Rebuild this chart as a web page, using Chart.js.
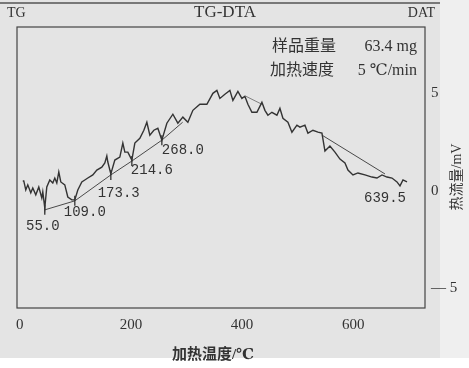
<!DOCTYPE html>
<html>
<head>
<meta charset="utf-8">
<script src="https://cdn.jsdelivr.net/npm/chart.js@4/dist/chart.umd.min.js"></script>
<style>
html, body { margin: 0; padding: 0; background: #fff; }
</style>
</head>
<body>
<canvas id="dta" width="469" height="368"></canvas>
<script>
// DTA trace (temperature in °C, heat flow in mV)
var tempC = [5.4, 7.2, 10.8, 14.4, 19.8, 23.4, 28.8, 34.2, 39.6, 41.4, 45, 48.6, 54, 59.4, 63, 66.6, 70.2, 73.8, 81, 86.4,
    93.6, 99, 104.4, 111.6, 117, 122.4, 131.4, 138.6, 147.6, 153, 156.6, 158.4, 163.8, 171, 180, 185.4, 189, 194.4, 201.6, 207,
    216, 223.2, 228.6, 234, 241.2, 248.4, 255.6, 264.6, 275.4, 284.4, 293.4, 302.4, 311.4, 324, 336.6, 347.4, 354.6, 360, 369, 378,
    383.4, 392.4, 399.6, 405, 410.4, 417.6, 426.6, 435.6, 441, 446.4, 453.6, 462.6, 468, 473.4, 482.4, 489.6, 498.6, 504, 513, 518.4,
    527.4, 536.4, 543.6, 549, 558, 567, 576, 585, 590.4, 599.4, 608.4, 621, 633.6, 642.6, 651.6, 660.6, 669.6, 678.6, 684, 689.4, 696.6];
var dtaMv = [0.51, 0.51, 0.05, 0.31, -0.10, 0.15, -0.20, 0.20, -0.36, -0.05, -0.87, 0.20, 0.56, 0.41, 0.66, 0.41, 0.97, 0.46, 0.31, -0.31,
    -0.46, -0.46, 0.05, 0.46, 0.56, 0.66, 0.82, 1.07, 1.22, 1.43, 1.79, 1.48, 0.87, 1.58, 1.73, 2.45, 1.99, 1.99, 1.58, 2.45,
    2.70, 3.11, 3.52, 2.86, 3.11, 3.21, 2.60, 3.47, 3.93, 3.47, 3.78, 3.52, 4.13, 4.44, 4.44, 5.00, 5.15, 4.74, 4.95, 5.15,
    4.64, 5.10, 4.74, 4.85, 4.44, 4.03, 4.03, 4.54, 4.13, 3.88, 4.03, 3.88, 4.23, 3.72, 3.52, 3.01, 3.37, 3.27, 3.37, 2.96,
    3.11, 3.01, 2.96, 2.04, 2.30, 1.99, 1.63, 1.43, 1.07, 0.82, 0.92, 0.82, 0.71, 0.66, 0.82, 0.71, 0.66, 0.46, 0.26, 0.56, 0.46];

// baseline drawn under the rising part, and the two tangents on the falling part
var baseT = [45, 99, 163.8, 201.6, 255.6, 293];
var baseV = [-0.97, -0.51, 0.82, 1.53, 2.60, 3.52];
var peakTanT = [406.8, 435.6];
var peakTanV = [4.85, 4.44];
var lateTanT = [543.6, 657];
var lateTanV = [2.86, 0.87];

var pointLabels = ['55.0', '109.0', '173.3', '214.6', '268.0', '639.5'];
var xTicks = [0, 200, 400, 600];
var yTicks = [-5, 0, 5];

function pairs(xs, ys) {
    return xs.map(function (x, i) { return { x: x, y: ys[i] }; });
}

var ink = '#333';
var serif = '"Liberation Serif", "DejaVu Serif", "Noto Sans CJK SC", serif';

var paperPlugin = {
    id: 'paper',
    beforeDraw: function (chart) {
        var ctx = chart.ctx;
        ctx.save();
        ctx.fillStyle = '#ffffff';
        ctx.fillRect(0, 0, chart.width, chart.height);
        ctx.fillStyle = '#e4e4e4';
        ctx.fillRect(0, 0, 440, 358);
        ctx.fillStyle = '#efefef';
        ctx.fillRect(440, 0, chart.width - 440, 358);
        ctx.restore();
    },
    afterDraw: function (chart) {
        var ctx = chart.ctx;
        var a = chart.chartArea;
        var xs = chart.scales.x, ys = chart.scales.y;
        ctx.save();
        // frame
        ctx.strokeStyle = '#444';
        ctx.lineWidth = 1.2;
        ctx.strokeRect(a.left, a.top, a.right - a.left, a.bottom - a.top);
        // scan edge at the top
        ctx.strokeStyle = '#555';
        ctx.lineWidth = 1.5;
        ctx.beginPath();
        ctx.moveTo(0, 3);
        ctx.lineTo(440, 3);
        ctx.stroke();

        ctx.fillStyle = ink;
        ctx.textBaseline = 'middle';
        ctx.font = '14px ' + serif;
        ctx.textAlign = 'left';
        ctx.fillText('TG', 7, 13);
        ctx.textAlign = 'right';
        ctx.fillText('DAT', 435, 13);
        ctx.font = '17px ' + serif;
        ctx.textAlign = 'center';
        ctx.fillText('TG-DTA', 225, 13);

        // sample notes, top right
        ctx.font = '16px ' + serif;
        ctx.textAlign = 'left';
        ctx.fillText('样品重量', 272, 47);
        ctx.fillText('加热速度', 270, 71);
        ctx.textAlign = 'right';
        ctx.fillText('63.4 mg', 417, 47);
        ctx.fillText('5 ℃/min', 417, 71);

        // x axis title
        ctx.textAlign = 'center';
        ctx.font = 'bold 15px ' + serif;
        ctx.fillText('加热温度/℃', 213, 355);

        // right axis title, reading bottom to top
        ctx.save();
        ctx.translate(457, 177);
        ctx.rotate(-Math.PI / 2);
        ctx.font = '14px ' + serif;
        ctx.fillText('热流量/mV', 0, 0);
        ctx.restore();

        // temperature labels next to the marked points
        var at = [[41.4, -1.79], [117, -1.12], [178, -0.10], [237.6, 1.07], [293.4, 2.09], [657, -0.36]];
        ctx.font = '14px "Liberation Mono", "DejaVu Sans Mono", monospace';
        ctx.textAlign = 'center';
        pointLabels.forEach(function (t, i) {
            ctx.fillText(t, xs.getPixelForValue(at[i][0]), ys.getPixelForValue(at[i][1]));
        });
        ctx.restore();
    }
};

new Chart(document.getElementById('dta').getContext('2d'), {
    type: 'line',
    data: {
        datasets: [{
            label: 'DTA',
            data: pairs(tempC, dtaMv),
            borderColor: ink,
            borderWidth: 1.4,
            pointRadius: 0,
            tension: 0
        }, {
            label: 'baseline',
            data: pairs(baseT, baseV),
            borderColor: '#4a4a4a',
            borderWidth: 1,
            pointStyle: 'line',
            rotation: 90,
            pointRadius: [5, 5, 5, 5, 5, 0],
            pointBorderColor: ink,
            pointBorderWidth: 1.3,
            tension: 0
        }, {
            label: 'tangent1',
            data: pairs(peakTanT, peakTanV),
            borderColor: '#666',
            borderWidth: 0.8,
            pointRadius: 0
        }, {
            label: 'tangent2',
            data: pairs(lateTanT, lateTanV),
            borderColor: '#4a4a4a',
            borderWidth: 1,
            pointRadius: 0
        }]
    },
    options: {
        responsive: false,
        animation: false,
        devicePixelRatio: 1,
        layout: { padding: { left: 17, top: 27, right: 0, bottom: 0 } },
        plugins: {
            legend: { display: false },
            tooltip: { enabled: false }
        },
        scales: {
            x: {
                type: 'linear',
                position: 'bottom',
                min: -5,
                max: 729,
                grid: { display: false, drawTicks: false },
                border: { display: false },
                ticks: { color: ink, padding: 8, font: { family: serif, size: 15 } },
                afterBuildTicks: function (s) { s.ticks = xTicks.map(function (v) { return { value: v }; }); },
                afterFit: function (s) { s.height = 60; }
            },
            y: {
                type: 'linear',
                position: 'right',
                min: -6,
                max: 8.4,
                grid: { display: false, drawTicks: false },
                border: { display: false },
                ticks: {
                    color: ink,
                    padding: 6,
                    font: { family: serif, size: 15 },
                    callback: function (v) { return v < 0 ? '— ' + Math.abs(v) : String(v); }
                },
                afterBuildTicks: function (s) { s.ticks = yTicks.map(function (v) { return { value: v }; }); },
                afterFit: function (s) { s.width = 44; }
            }
        }
    },
    plugins: [paperPlugin]
});
</script>
</body>
</html>
